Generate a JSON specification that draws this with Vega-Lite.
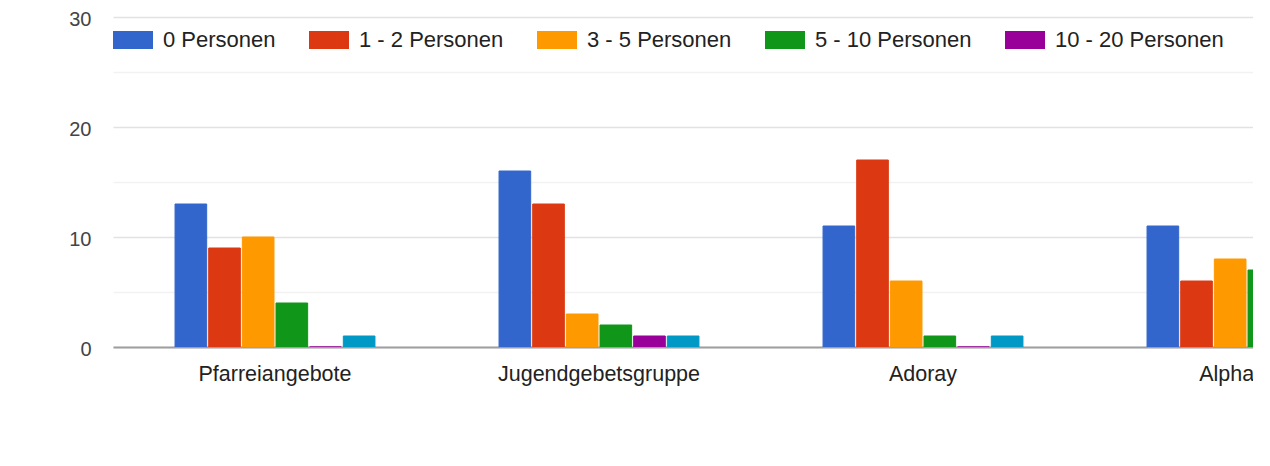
{
  "$schema": "https://vega.github.io/schema/vega-lite/v6.json",
  "autosize": {"type": "none"},
  "width": 1140,
  "height": 330,
  "padding": {"left": 113, "top": 17, "right": 0, "bottom": 119},
  "background": "#ffffff",
  "config": {
    "view": {"stroke": null},
    "font": "Liberation Sans"
  },
  "data": {
    "values": [
      {"kategorie": "Pfarreiangebote", "gruppe": "0 Personen", "anzahl": 13},
      {"kategorie": "Pfarreiangebote", "gruppe": "1 - 2 Personen", "anzahl": 9},
      {"kategorie": "Pfarreiangebote", "gruppe": "3 - 5 Personen", "anzahl": 10},
      {"kategorie": "Pfarreiangebote", "gruppe": "5 - 10 Personen", "anzahl": 4},
      {"kategorie": "Pfarreiangebote", "gruppe": "10 - 20 Personen", "anzahl": 0},
      {"kategorie": "Pfarreiangebote", "gruppe": "mehr als 20 Personen", "anzahl": 1},
      {"kategorie": "Jugendgebetsgruppe", "gruppe": "0 Personen", "anzahl": 16},
      {"kategorie": "Jugendgebetsgruppe", "gruppe": "1 - 2 Personen", "anzahl": 13},
      {"kategorie": "Jugendgebetsgruppe", "gruppe": "3 - 5 Personen", "anzahl": 3},
      {"kategorie": "Jugendgebetsgruppe", "gruppe": "5 - 10 Personen", "anzahl": 2},
      {"kategorie": "Jugendgebetsgruppe", "gruppe": "10 - 20 Personen", "anzahl": 1},
      {"kategorie": "Jugendgebetsgruppe", "gruppe": "mehr als 20 Personen", "anzahl": 1},
      {"kategorie": "Adoray", "gruppe": "0 Personen", "anzahl": 11},
      {"kategorie": "Adoray", "gruppe": "1 - 2 Personen", "anzahl": 17},
      {"kategorie": "Adoray", "gruppe": "3 - 5 Personen", "anzahl": 6},
      {"kategorie": "Adoray", "gruppe": "5 - 10 Personen", "anzahl": 1},
      {"kategorie": "Adoray", "gruppe": "10 - 20 Personen", "anzahl": 0},
      {"kategorie": "Adoray", "gruppe": "mehr als 20 Personen", "anzahl": 1},
      {"kategorie": "Alphakurs", "gruppe": "0 Personen", "anzahl": 11},
      {"kategorie": "Alphakurs", "gruppe": "1 - 2 Personen", "anzahl": 6},
      {"kategorie": "Alphakurs", "gruppe": "3 - 5 Personen", "anzahl": 8},
      {"kategorie": "Alphakurs", "gruppe": "5 - 10 Personen", "anzahl": 7}
    ]
  },
  "mark": {"type": "bar", "clip": true, "strokeWidth": 1},
  "encoding": {
    "x": {
      "field": "kategorie",
      "type": "nominal",
      "sort": null,
      "scale": {"range": [0, 1296], "paddingInner": 0.383, "paddingOuter": 0.1915},
      "axis": {
        "title": null,
        "labelAngle": 0,
        "ticks": false,
        "labelPadding": 16,
        "labelFontSize": 21.5,
        "labelColor": "#222222",
        "labelLimit": 600,
        "labelOverlap": false,
        "domain": true,
        "domainColor": "#9e9e9e",
        "domainWidth": 2,
        "labelFont": "Liberation Sans"
      }
    },
    "xOffset": {
      "field": "gruppe",
      "type": "nominal",
      "sort": ["0 Personen", "1 - 2 Personen", "3 - 5 Personen", "5 - 10 Personen", "10 - 20 Personen", "mehr als 20 Personen"],
      "scale": {"paddingInner": 0.06}
    },
    "y": {
      "field": "anzahl",
      "type": "quantitative",
      "scale": {"domain": [0, 30], "nice": false},
      "axis": {
        "title": null,
        "values": [0, 5, 10, 15, 20, 25, 30],
        "labelExpr": "datum.value % 10 === 0 ? datum.label : ''",
        "ticks": false,
        "domain": false,
        "labelPadding": 22,
        "labelFontSize": 20,
        "labelColor": "#444444",
        "labelBaseline": "middle",
        "labelOffset": 2,
        "gridWidth": 1.5,
        "gridColor": {"condition": {"test": "datum.value % 10 === 0", "value": "#e2e2e2"}, "value": "#f2f2f2"},
        "labelFont": "Liberation Sans"
      }
    },
    "color": {
      "field": "gruppe",
      "type": "nominal",
      "sort": ["0 Personen", "1 - 2 Personen", "3 - 5 Personen", "5 - 10 Personen", "10 - 20 Personen", "mehr als 20 Personen"],
      "scale": {"range": ["#3366cc", "#dc3912", "#ff9900", "#109618", "#990099", "#0099c6"]},
      "legend": {
        "title": null,
        "orient": "none",
        "legendX": 0,
        "legendY": 3,
        "direction": "horizontal",
        "symbolType": "M-1,-0.45H1V0.45H-1Z",
        "symbolSize": 1600,
        "symbolStrokeWidth": 0,
        "labelFontSize": 22,
        "labelColor": "#222222",
        "labelOffset": 10,
        "columnPadding": 33,
        "labelFont": "Liberation Sans",
        "labelLimit": 400
      }
    },
    "stroke": {
      "field": "gruppe",
      "type": "nominal",
      "sort": ["0 Personen", "1 - 2 Personen", "3 - 5 Personen", "5 - 10 Personen", "10 - 20 Personen", "mehr als 20 Personen"],
      "scale": {"range": ["#3366cc", "#dc3912", "#ff9900", "#109618", "#990099", "#0099c6"]},
      "legend": null
    }
  }
}
